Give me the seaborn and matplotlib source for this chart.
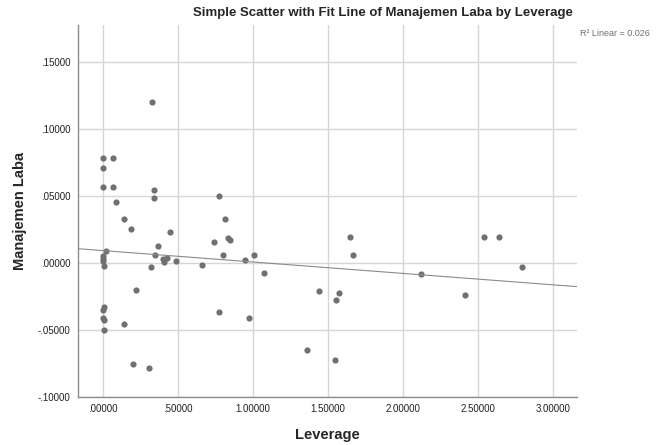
import pandas as pd
import seaborn as sns
import matplotlib.pyplot as plt
from matplotlib.ticker import FuncFormatter

# data
leverage = [0.330, 0.000, 0.067, 0.004, 0.000, 0.071, 0.089, 0.144, 0.189, 0.344,
            0.344, 0.449, 0.371, 0.351, 0.404, 0.427, 0.409, 0.489, 0.322, 0.664,
            0.777, 0.815, 0.837, 0.851, 0.740, 0.804, 0.949, 1.007, 0.020, 0.003,
            0.003, 0.002, 0.009, 0.222, 0.009, 0.004, 0.004, 0.009, 0.144, 0.009,
            0.775, 0.977, 0.204, 0.311, 1.073, 1.651, 1.671, 1.442, 1.578, 1.553,
            1.362, 1.547, 2.544, 2.640, 2.795, 2.124, 2.413]
manajemen_laba = [0.1200, 0.0780, 0.0780, 0.0710, 0.0564, 0.0567, 0.0452, 0.0328, 0.0254, 0.0547,
                  0.0485, 0.0228, 0.0129, 0.0062, 0.0025, 0.0034, 0.0005, 0.0012, -0.0030, -0.0020,
                  0.0497, 0.0325, 0.0187, 0.0174, 0.0157, 0.0062, 0.0020, 0.0062, 0.0087, 0.0049,
                  0.0025, 0.0017, -0.0025, -0.0200, -0.0331, -0.0350, -0.0413, -0.0428, -0.0458, -0.0505,
                  -0.0366, -0.0413, -0.0757, -0.0784, -0.0075, 0.0189, 0.0060, -0.0209, -0.0224, -0.0281,
                  -0.0654, -0.0729, 0.0194, 0.0189, -0.0028, -0.0082, -0.0237]
x_ticks = [0.0, 0.5, 1.0, 1.5, 2.0, 2.5, 3.0]
y_ticks = [-0.10, -0.05, 0.0, 0.05, 0.10, 0.15]

df = pd.DataFrame({'Leverage': leverage, 'Manajemen Laba': manajemen_laba})

sns.set_style("white")
plt.rcParams['font.family'] = ['Liberation Sans', 'DejaVu Sans']


def spss_fmt(v, pos):
    s = f"{v:.5f}"
    return s.replace("0.", ".", 1) if abs(v) < 1 else s


fig = plt.figure(figsize=(6.57, 4.45), dpi=100)
ax = fig.add_axes([77.7 / 657, 1 - 396.7 / 445, 499 / 657, 371.7 / 445])
ax.set_xlim(-0.167, 3.16)
ax.set_ylim(-0.10, 0.1776)

ax.set_xticks(x_ticks)
ax.set_yticks(y_ticks)
ax.grid(True, color='#d6d6d6', lw=1.0)
ax.set_axisbelow(True)

sns.regplot(x='Leverage', y='Manajemen Laba', data=df, ax=ax, ci=None, truncate=False,
            scatter_kws={'s': 20, 'color': '#707070', 'linewidths': 0, 'alpha': 1},
            line_kws={'color': '#8a8a8a', 'lw': 0.8})

ax.xaxis.set_major_formatter(FuncFormatter(spss_fmt))
ax.yaxis.set_major_formatter(FuncFormatter(spss_fmt))
ax.tick_params(length=0, labelsize=7, colors='#222222', pad=5)

for side in ['top', 'right']:
    ax.spines[side].set_visible(False)
for side in ['left', 'bottom']:
    ax.spines[side].set_color('#8c8c8c')
    ax.spines[side].set_linewidth(1.0)

ax.set_xlabel("Leverage", fontsize=10.5, fontweight='bold', va='center')
ax.set_ylabel("Manajemen Laba", fontsize=10.5, fontweight='bold', va='center')
ax.xaxis.set_label_coords(0.5, -0.103)
ax.yaxis.set_label_coords(-0.1156, 0.5)

fig.text(383 / 657, 1 - 13 / 445, "Simple Scatter with Fit Line of Manajemen Laba by Leverage",
         ha='center', va='center', fontsize=9.5, fontweight='bold')
fig.text(580 / 657, 1 - 33 / 445, "R² Linear = 0.026", ha='left', va='center',
         fontsize=6.5, color='#707070')

plt.savefig("out.png", dpi=100)
